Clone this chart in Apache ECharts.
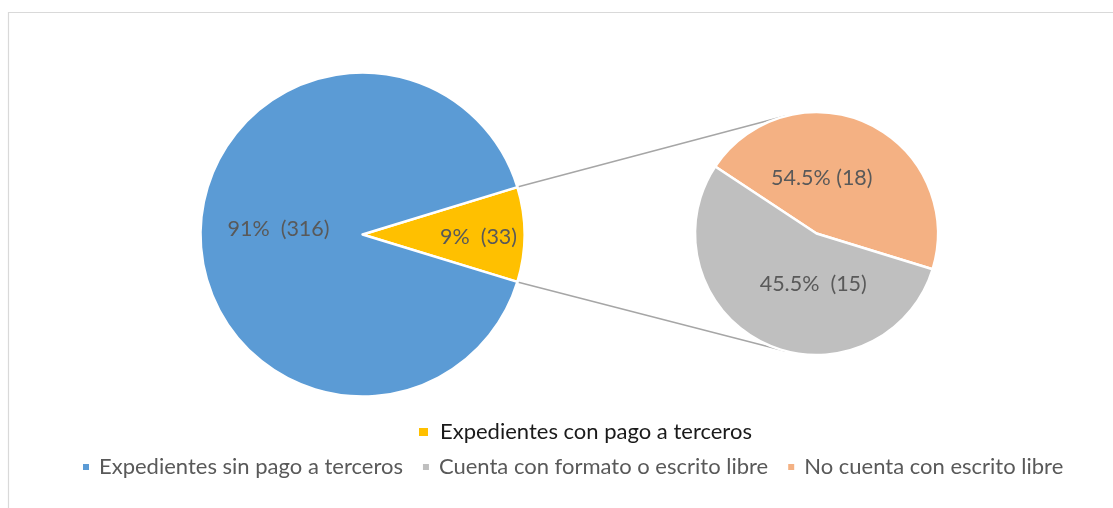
<!DOCTYPE html>
<html>
<head>
<meta charset="utf-8">
<script src="https://cdn.jsdelivr.net/npm/echarts@6/dist/echarts.min.js"></script>
<style>
  html, body { margin: 0; padding: 0; background: #fff; }
  #chart { width: 1113px; height: 508px; }
</style>
</head>
<body>
<div id="chart"></div>
<script>
// main pie: first slice is the one that gets split into the second pie
var mainNames = ['Expedientes con pago a terceros', 'Expedientes sin pago a terceros'];
var mainValues = [33, 316];
var mainLabels = ['9%  (33)', '91%  (316)'];
var mainColors = ['#FFC000', '#5B9BD5'];

// second pie (slice sizes as drawn, labels as printed on the chart)
var subNames = ['No cuenta con escrito libre', 'Cuenta con formato o escrito libre'];
var subValues = [15, 18];
var subLabels = ['54.5% (18)', '45.5%  (15)'];
var subColors = ['#F4B183', '#BFBFBF'];

var legendTop = ['Expedientes con pago a terceros'];
var legendBottom = ['Expedientes sin pago a terceros', 'Cuenta con formato o escrito libre', 'No cuenta con escrito libre'];

var FONT = 'Lato';
var main = { cx: 362.5, cy: 234.5, r: 162 };
var sub = { cx: 816.5, cy: 233.5, r: 121.5 };

var mainTotal = mainValues.reduce(function(a, b){ return a + b; }, 0);
var splitHalf = mainValues[0] / mainTotal * 180;   // half angle of split slice

// label nudges: [dx, dy] in px, done with padding (x) and an empty line (y)
var mainShift = [[32, 3], [0, -5]];
var subShift = [[-22, 2], [24, -7]];

function nudged(text, sh){
	var dy = sh[1];
	var fmt = text;
	var lh = null;
	if (dy < 0) { fmt = text + '\n '; lh = -2 * dy; }
	else if (dy > 0) { fmt = ' \n' + text; lh = 2 * dy; }
	var pad = sh[0] >= 0 ? [0, 0, 0, 2 * sh[0]] : [0, -2 * sh[0], 0, 0];
	return { formatter: fmt, lineHeight: lh, padding: pad };
}

var chart = echarts.init(document.getElementById('chart'));

// connector lines: tangents from the split slice corners to the second pie
function tangent(px, py, upper){
	var dx = sub.cx - px, dy = sub.cy - py;
	var D = Math.sqrt(dx*dx + dy*dy);
	var th = Math.atan2(dy, dx);
	var al = Math.asin(sub.r / D);
	var a = upper ? th - al : th + al;
	var L = Math.sqrt(D*D - sub.r*sub.r);
	return [px + L*Math.cos(a), py + L*Math.sin(a)];
}
var rad = splitHalf * Math.PI / 180;
var pU = [main.cx + main.r*Math.cos(rad), main.cy - main.r*Math.sin(rad)];
var pD = [main.cx + main.r*Math.cos(rad), main.cy + main.r*Math.sin(rad)];
var tU = tangent(pU[0], pU[1], true);
var tD = tangent(pD[0], pD[1], false);

function sliceLabel(text, sh){
	var n = nudged(text, sh);
	var lab = {
		show: true, position: 'inside',
		formatter: n.formatter,
		fontFamily: FONT, fontSize: 21.5, color: '#595959',
		padding: n.padding
	};
	if (n.lineHeight) lab.lineHeight = n.lineHeight;
	return lab;
}

var option = {
	animation: false,
	graphic: [
		{ type: 'rect', shape: { x: 8.5, y: 12.5, width: 1200, height: 600 },
		  style: { fill: 'none', stroke: '#d9d9d9', lineWidth: 1.2 }, z: -1 },
		{ type: 'line', shape: { x1: pU[0], y1: pU[1], x2: tU[0], y2: tU[1] },
		  style: { stroke: '#a6a6a6', lineWidth: 1.5 }, z: 0 },
		{ type: 'line', shape: { x1: pD[0], y1: pD[1], x2: tD[0], y2: tD[1] },
		  style: { stroke: '#a6a6a6', lineWidth: 1.5 }, z: 0 }
	],
	legend: [
		{
			data: legendTop,
			left: 412, top: 416,
			itemWidth: 11, itemHeight: 10,
			icon: 'rect',
			selectedMode: false,
			textStyle: { fontFamily: FONT, fontSize: 22, color: '#1a1a1a', padding: [0, 0, 0, 6] }
		},
		{
			data: legendBottom,
			left: 76, top: 451,
			itemWidth: 8, itemHeight: 8,
			itemGap: 18,
			icon: 'rect',
			selectedMode: false,
			textStyle: { fontFamily: FONT, fontSize: 22, color: '#595959', padding: [0, 0, 0, 4] }
		}
	],
	series: [
		{
			name: 'principal',
			type: 'pie',
			center: [main.cx, main.cy],
			radius: main.r,
			startAngle: splitHalf,
			clockwise: true,
			avoidLabelOverlap: false,
			emphasis: { disabled: true },
			itemStyle: { borderColor: '#fff', borderWidth: 2.5 },
			labelLine: { show: false },
			data: mainValues.map(function(v, i){
				return {
					name: mainNames[i], value: v,
					itemStyle: { color: mainColors[i] },
					label: sliceLabel(mainLabels[i], mainShift[i])
				};
			})
		},
		{
			name: 'secundario',
			type: 'pie',
			center: [sub.cx, sub.cy],
			radius: sub.r,
			startAngle: 146.5,
			clockwise: true,
			avoidLabelOverlap: false,
			emphasis: { disabled: true },
			itemStyle: { borderColor: '#fff', borderWidth: 2.5 },
			labelLine: { show: false },
			data: subValues.map(function(v, i){
				return {
					name: subNames[i], value: v,
					itemStyle: { color: subColors[i] },
					label: sliceLabel(subLabels[i], subShift[i])
				};
			})
		}
	]
};
chart.setOption(option);
</script>
</body>
</html>
